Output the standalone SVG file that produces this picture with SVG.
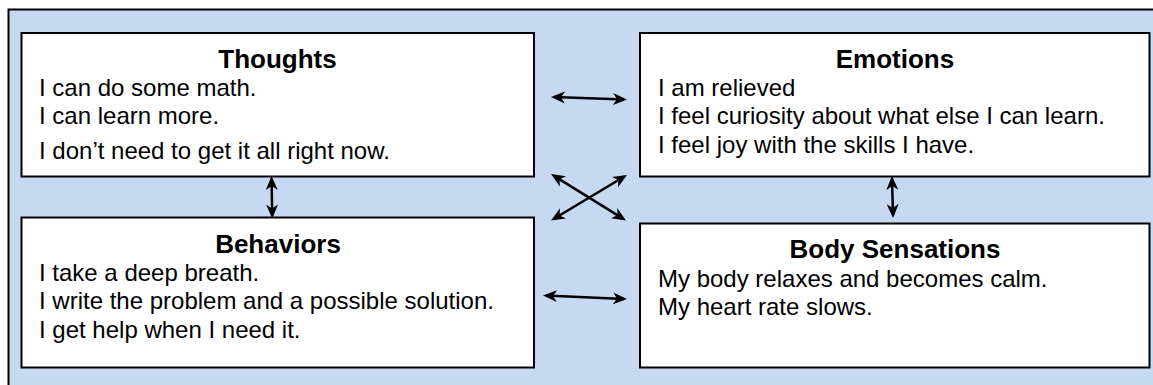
<svg xmlns="http://www.w3.org/2000/svg" width="1153" height="385" viewBox="0 0 1153 385">
<style>
.bg{fill:#c6d9f1;stroke:#000;stroke-width:2}
.box{fill:#fff;stroke:#000;stroke-width:2}
.t{font-family:"Liberation Sans",Arial,sans-serif;font-size:26px;font-weight:bold;fill:#000;text-anchor:middle}
.b{font-family:"Liberation Sans",Arial,sans-serif;font-size:24px;fill:#000}
.c{fill:none;stroke:#000;stroke-width:2.5}
</style>
<defs>
<marker id="ah" markerUnits="userSpaceOnUse" markerWidth="16" markerHeight="14" viewBox="0 0 16 14" refX="11" refY="7" orient="auto-start-reverse">
<path d="M0,1 L14,7 L0,13 L4,7 Z" fill="#000"/>
</marker>
</defs>
<rect class="bg" x="8.5" y="9.5" width="1160" height="390"/>
<g id="thoughts">
<rect class="box" x="21.5" y="33" width="512.5" height="143.5"/>
<text class="t" x="277.5" y="68">Thoughts</text>
<text class="b" x="39" y="96">I can do some math.</text>
<text class="b" x="39" y="124">I can learn more.</text>
<text class="b" x="39" y="159">I don’t need to get it all right now.</text>
</g>
<g id="emotions">
<rect class="box" x="640" y="33" width="509.5" height="143.5"/>
<text class="t" x="895" y="68">Emotions</text>
<text class="b" x="658" y="96">I am relieved</text>
<text class="b" x="658" y="124">I feel curiosity about what else I can learn.</text>
<text class="b" x="658" y="152.5">I feel joy with the skills I have.</text>
</g>
<g id="behaviors">
<rect class="box" x="21.5" y="217.5" width="512.5" height="150"/>
<text class="t" x="278" y="253">Behaviors</text>
<text class="b" x="39" y="281">I take a deep breath.</text>
<text class="b" x="39" y="309">I write the problem and a possible solution.</text>
<text class="b" x="39" y="337.5">I get help when I need it.</text>
</g>
<g id="body-sensations">
<rect class="box" x="640" y="223.5" width="509.5" height="144"/>
<text class="t" x="895" y="258">Body Sensations</text>
<text class="b" x="658" y="287">My body relaxes and becomes calm.</text>
<text class="b" x="658" y="315">My heart rate slows.</text>
</g>
<g id="connectors">
<line class="c" x1="554" y1="97.1" x2="624" y2="99.4" marker-start="url(#ah)" marker-end="url(#ah)"/>
<line class="c" x1="546" y1="295.6" x2="624" y2="298.9" marker-start="url(#ah)" marker-end="url(#ah)"/>
<line class="c" x1="553.6" y1="175.6" x2="623.4" y2="218.9" marker-start="url(#ah)" marker-end="url(#ah)"/>
<line class="c" x1="624.4" y1="176.5" x2="553.6" y2="219" marker-start="url(#ah)" marker-end="url(#ah)"/>
<line class="c" x1="271.6" y1="179" x2="272.2" y2="215.5" marker-start="url(#ah)" marker-end="url(#ah)"/>
<line class="c" x1="892" y1="179" x2="893" y2="215" marker-start="url(#ah)" marker-end="url(#ah)"/>
</g>
</svg>
